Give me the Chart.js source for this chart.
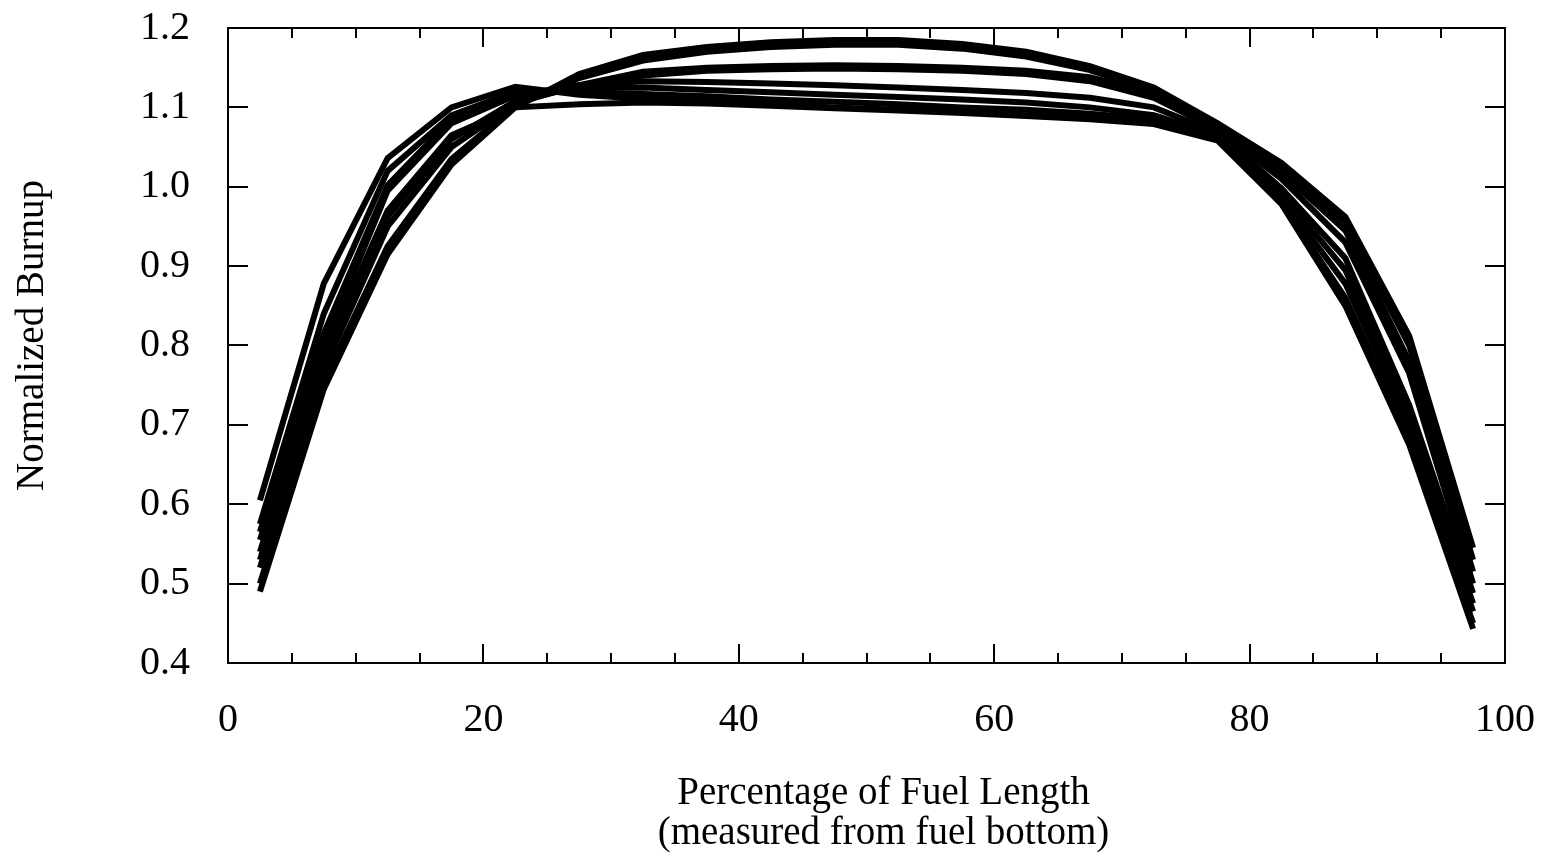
<!DOCTYPE html>
<html>
<head>
<meta charset="utf-8">
<script src="https://cdn.jsdelivr.net/npm/chart.js@4/dist/chart.umd.min.js"></script>
<style>
  html, body { margin: 0; padding: 0; background: #fff; }
  #wrap { width: 1551px; height: 855px; }
</style>
</head>
<body>
<div id="wrap"><canvas id="c" width="1551" height="855"></canvas></div>
<script>
// ---- data ----
const positions = [2.5, 7.5, 12.5, 17.5, 22.5, 27.5, 32.5, 37.5, 42.5, 47.5, 52.5, 57.5, 62.5, 67.5, 72.5, 77.5, 82.5, 87.5, 92.5, 97.5];
const profileA = [0.490, 0.745, 0.915, 1.028, 1.100, 1.142, 1.166, 1.176, 1.182, 1.185, 1.185, 1.180, 1.170, 1.152, 1.125, 1.080, 1.030, 0.962, 0.812, 0.545];
const profileB = [0.500, 0.755, 0.925, 1.035, 1.102, 1.137, 1.159, 1.170, 1.176, 1.179, 1.179, 1.174, 1.164, 1.147, 1.120, 1.078, 1.025, 0.955, 0.800, 0.530];
const profileC = [0.520, 0.770, 0.950, 1.050, 1.105, 1.128, 1.145, 1.150, 1.152, 1.153, 1.152, 1.150, 1.146, 1.138, 1.117, 1.075, 1.018, 0.945, 0.780, 0.515];
const profileD = [0.530, 0.785, 0.962, 1.060, 1.108, 1.126, 1.140, 1.146, 1.148, 1.149, 1.148, 1.146, 1.142, 1.133, 1.112, 1.072, 1.010, 0.930, 0.765, 0.500];
const profileE = [0.555, 0.800, 0.995, 1.080, 1.115, 1.128, 1.133, 1.132, 1.130, 1.128, 1.125, 1.122, 1.118, 1.112, 1.100, 1.068, 0.998, 0.910, 0.725, 0.488];
const profileF = [0.565, 0.815, 1.002, 1.085, 1.118, 1.124, 1.125, 1.122, 1.119, 1.116, 1.113, 1.110, 1.106, 1.100, 1.090, 1.065, 0.992, 0.895, 0.712, 0.475];
const profileG = [0.575, 0.840, 1.020, 1.090, 1.120, 1.119, 1.117, 1.114, 1.110, 1.107, 1.104, 1.100, 1.097, 1.092, 1.085, 1.062, 0.986, 0.878, 0.700, 0.465];
const profileH = [0.605, 0.878, 1.036, 1.100, 1.126, 1.116, 1.111, 1.107, 1.104, 1.100, 1.097, 1.094, 1.090, 1.086, 1.080, 1.060, 0.980, 0.860, 0.685, 0.450];
const profileI = [0.540, 0.790, 0.970, 1.065, 1.100, 1.104, 1.106, 1.105, 1.102, 1.099, 1.096, 1.093, 1.089, 1.085, 1.079, 1.058, 0.978, 0.850, 0.675, 0.443];
const profiles = [profileA, profileB, profileC, profileD, profileE, profileF, profileG, profileH, profileI];
const xTickLabels = [0, 20, 40, 60, 80, 100];
const yTickLabels = ['0.4', '0.5', '0.6', '0.7', '0.8', '0.9', '1.0', '1.1', '1.2'];
const xTitle = ['Percentage of Fuel Length', '(measured from fuel bottom)'];
const yTitle = 'Normalized Burnup';

const FONT = 'Liberation Serif, Times New Roman, serif';

const datasets = profiles.map(p => ({
  data: positions.map((x, i) => ({ x: x, y: p[i] })),
  borderColor: '#000',
  borderWidth: 6,
  borderJoinStyle: 'miter',
  pointRadius: 0,
  fill: false,
  tension: 0
}));

const frameTicks = {
  id: 'frameTicks',
  afterDraw(chart) {
    const { ctx, chartArea: a, scales: { x, y } } = chart;
    ctx.save();
    ctx.strokeStyle = '#000';
    ctx.lineWidth = 2;
    ctx.strokeRect(a.left, a.top, a.right - a.left, a.bottom - a.top);
    ctx.beginPath();
    x.ticks.forEach(t => {
      const px = Math.round(x.getPixelForValue(t.value));
      const major = t.value % 20 === 0;
      const len = major ? 19 : 10;
      ctx.moveTo(px, a.bottom); ctx.lineTo(px, a.bottom - len);
      ctx.moveTo(px, a.top); ctx.lineTo(px, a.top + len);
    });
    y.ticks.forEach(t => {
      const py = Math.round(y.getPixelForValue(t.value));
      ctx.moveTo(a.left, py); ctx.lineTo(a.left + 20, py);
      ctx.moveTo(a.right, py); ctx.lineTo(a.right - 20, py);
    });
    ctx.stroke();

    // axis titles
    ctx.fillStyle = '#000';
    ctx.font = '39px ' + FONT;
    ctx.textAlign = 'center';
    ctx.textBaseline = 'middle';
    const cx = (a.left + a.right) / 2 + 17;
    ctx.fillText(xTitle[0], cx, a.bottom + 131);
    ctx.fillText(xTitle[1], cx, a.bottom + 171);
    ctx.translate(33, (a.top + a.bottom) / 2 - 10);
    ctx.rotate(-Math.PI / 2);
    ctx.fillText(yTitle, 0, 0);
    ctx.restore();
  }
};

function zeroPad(s) {
  s.paddingTop = 0; s.paddingBottom = 0; s.paddingLeft = 0; s.paddingRight = 0;
}

new Chart(document.getElementById('c'), {
  type: 'line',
  data: { datasets },
  options: {
    responsive: false,
    animation: false,
    events: [],
    layout: { padding: { top: 28, right: 46, left: 0, bottom: 0 } },
    plugins: { legend: { display: false }, tooltip: { enabled: false } },
    scales: {
      x: {
        type: 'linear',
        min: 0, max: 100,
        afterFit(s) { s.height = 192; zeroPad(s); },
        grid: { display: false, drawTicks: false },
        border: { display: false },
        ticks: {
          stepSize: 5,
          autoSkip: false,
          maxRotation: 0,
          padding: 33,
          color: '#000',
          font: { family: FONT, size: 40 },
          callback: v => (xTickLabels.includes(v) ? String(v) : '')
        },
        title: { display: false }
      },
      y: {
        type: 'linear',
        min: 0.4, max: 1.2,
        afterFit(s) { s.width = 228; zeroPad(s); },
        grid: { display: false, drawTicks: false },
        border: { display: false },
        ticks: {
          stepSize: 0.1,
          padding: 38,
          color: '#000',
          font: { family: FONT, size: 40 },
          callback: (v) => {
            const s = v.toFixed(1);
            return yTickLabels.includes(s) ? s : '';
          }
        },
        title: { display: false }
      }
    }
  },
  plugins: [frameTicks]
});
</script>
</body>
</html>
